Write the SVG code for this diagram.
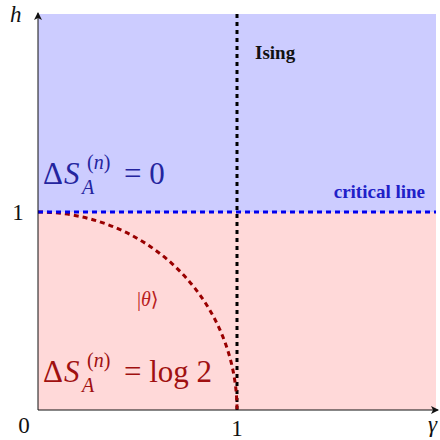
<svg xmlns="http://www.w3.org/2000/svg" width="440" height="440" viewBox="0 0 440 440">
<style>
text{font-family:'Liberation Serif','DejaVu Serif','Times New Roman',serif;}
.it{font-style:italic;}
.blue{fill:#24249e;}
.red{fill:#a01010;}
.lbl{font-size:23px;fill:#111;}
.big{font-size:31px;}
.sm{font-size:20px;}
</style>
<defs>
<marker id="arr" markerWidth="8" markerHeight="8" refX="7" refY="4" orient="auto" markerUnits="userSpaceOnUse">
<path d="M0,0 L8,4 L0,8 L2,4 Z" fill="#111"/>
</marker>
</defs>
<g id="regions">
<rect id="phase-top" x="38" y="14" width="398" height="198" fill="#ccccff"/>
<rect id="phase-bottom" x="38" y="212" width="398" height="198" fill="#ffd9d9"/>
</g>
<g id="connectors">
<line x1="237" y1="14" x2="237" y2="410" stroke="#000" stroke-width="3" stroke-dasharray="4,4"/>
<path d="M38,212 A199,198 0 0 1 237,410" fill="none" stroke="#990000" stroke-width="3" stroke-dasharray="5,4"/>
<line x1="38" y1="212" x2="436" y2="212" stroke="#0000ee" stroke-width="3" stroke-dasharray="5,4"/>
<line x1="38" y1="410" x2="38" y2="13" stroke="#111" stroke-width="1" marker-end="url(#arr)"/>
<line x1="38" y1="410" x2="438" y2="410" stroke="#111" stroke-width="1" marker-end="url(#arr)"/>
</g>
<g id="axis-labels" class="lbl">
<text x="10" y="22" class="it">h</text>
<text x="24" y="433" text-anchor="middle">0</text>
<text x="237" y="436" text-anchor="middle">1</text>
<text x="428" y="432" class="it">γ</text>
<text x="18" y="220" text-anchor="middle">1</text>
</g>
<g id="label-zero" class="blue">
<text x="43" y="184" class="big">Δ</text>
<text x="64" y="184" class="big it">S</text>
<text x="82" y="194" class="sm it">A</text>
<text x="87" y="169" class="sm">(<tspan class="it">n</tspan>)</text>
<text x="124" y="184" class="big">= 0</text>
</g>
<g id="label-log" class="red">
<text x="43" y="382" class="big">Δ</text>
<text x="64" y="382" class="big it">S</text>
<text x="82" y="392" class="sm it">A</text>
<text x="87" y="367" class="sm">(<tspan class="it">n</tspan>)</text>
<text x="124" y="382" class="big">= log 2</text>
</g>
<g id="label-ising">
<text x="255" y="59" font-size="19" font-weight="bold" fill="#111">Ising</text>
</g>
<g id="label-critical">
<text x="425" y="198" font-size="19" font-weight="bold" text-anchor="end" fill="#2020c8">critical line</text>
</g>
<g id="label-theta">
<text x="137" y="306" font-size="20" fill="#b82020">|<tspan class="it">θ</tspan>⟩</text>
</g>
</svg>
